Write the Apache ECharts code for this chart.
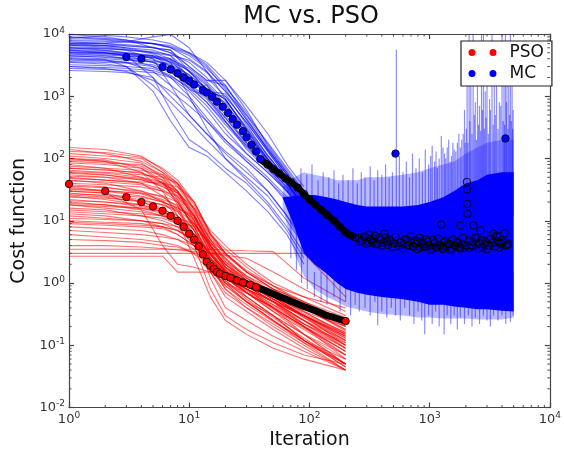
<!DOCTYPE html>
<html><head><meta charset="utf-8">
<script src="https://cdn.jsdelivr.net/npm/echarts@6/dist/echarts.min.js"></script>
<style>html,body{margin:0;padding:0;background:#fff}#c{width:564px;height:455px}</style>
</head><body><div id="c"></div>
<script>
// ---------------- data ----------------
const xTicks = [1, 10, 100, 1000, 10000];
const yTicks = [0.01, 0.1, 1, 10, 100, 1000, 10000];

// PSO individual runs, sampled at redX
const redX = [1, 2, 4, 6, 8, 11, 15, 20, 30, 50, 90, 200];
const redRuns = [
  [150,140,110,66,40,18,6,3.5,1.8,0.9,0.5,0.25],
  [120,110,100,60,35,15,5,2.5,1.2,0.7,0.35,0.15],
  [100,95,70,40,25,12,4,1.8,1.1,0.6,0.3,0.12],
  [90,85,80,55,30,10,3,1.2,0.7,0.4,0.2,0.08],
  [80,70,50,35,28,16,7,4,2,1,0.6,0.4],
  [70,65,60,40,20,8,2.5,1.5,0.9,0.5,0.25,0.1],
  [60,55,45,38,30,14,5,2.2,1.3,0.8,0.5,0.2],
  [55,50,40,25,15,7,3,1.5,0.8,0.4,0.15,0.06],
  [50,45,42,40,35,20,6,3,1.5,0.9,0.6,0.3],
  [45,40,30,20,12,6,2,1,0.6,0.3,0.15,0.05],
  [40,38,35,30,25,12,4,2,1.2,0.7,0.4,0.18],
  [38,35,28,22,18,10,3.5,1.8,0.9,0.5,0.25,0.09],
  [35,30,25,20,16,12,5,3,1.5,0.8,0.5,0.28],
  [32,30,28,25,20,8,2.5,1.2,0.7,0.35,0.18,0.07],
  [30,28,20,15,10,5,2,1.3,0.8,0.45,0.22,0.11],
  [28,25,22,18,15,9,4,2,1,0.6,0.3,0.14],
  [25,22,18,14,10,6,3,1.5,0.9,0.5,0.2,0.06],
  [22,20,18,15,12,7,2.2,1.1,0.6,0.3,0.12,0.045],
  [20,18,15,12,9,5,2.5,1.4,0.8,0.45,0.25,0.12],
  [18,16,14,12,10,8,4.5,2.5,1.3,0.7,0.4,0.2],
  [16,15,12,10,8,4,1.8,0.9,0.5,0.25,0.12,0.05],
  [15,14,13,12,11,9,4,1.8,1,0.55,0.3,0.15],
  [13,12,10,8,6,4,2,1.2,0.7,0.4,0.2,0.08],
  [12,11,10,9,8,6,3,1.5,0.9,0.6,0.35,0.2],
  [10,9.5,9,8,7,5,2,0.8,0.4,0.2,0.1,0.04],
  [9,8.5,8,7.5,6,4,2.2,1.3,0.8,0.5,0.3,0.15],
  [8,7.5,7,6,5,3.5,1.6,0.9,0.5,0.3,0.15,0.07],
  [7,6.5,6,5.5,5,4,2.5,1.4,0.9,0.6,0.4,0.25],
  [6,5.5,5,4.5,4,3,1.5,0.7,0.4,0.22,0.11,0.05],
  [5,4.8,4.5,4,3.8,3,2,1.2,0.8,0.5,0.3,0.13],
  [4,4,3.8,3.6,3.4,3.2,3,2.8,2.5,1.5,0.8,0.35],
  [3.5,3.5,3.5,3.5,3.5,3.5,3.5,3.4,3.3,3.2,1.2,0.5],
  [3,3,3,3,3,3,3,3,3,3,3,0.6],
  [2.7,2.7,2.7,2.7,1.5,1.5,1.5,1.0,0.7,0.4,0.2,0.09],
  [100,90,60,30,12,5,2.2,1,0.5,0.25,0.12,0.05],
  [65,60,55,50,40,20,6,3,1.6,0.9,0.45,0.22],
  [140,120,90,60,40,15,4.5,2.2,1.1,0.55,0.28,0.12],
  [75,70,65,55,38,16,5.5,2.8,1.5,0.8,0.4,0.17],
  [48,45,40,32,22,9,3.2,1.6,1,0.6,0.3,0.1],
  [26,24,20,16,11,5,1.5,0.6,0.35,0.18,0.09,0.04],
  [30,28,15,4,2,1.8,1.5,1.2,0.8,0.5,0.25,0.1],
  [110,100,85,50,22,7,1.2,0.4,0.25,0.14,0.08,0.04],
  [85,80,70,45,18,4,0.8,0.3,0.18,0.11,0.07,0.05],
  [18,17,16,14,10,2.5,0.6,0.25,0.15,0.09,0.06,0.04],
  [130,125,105,70,45,20,6.5,3,1.5,0.8,0.4,0.18],
  [95,90,75,50,30,13,4,1.6,0.8,0.4,0.2,0.07],
  [62,58,50,42,28,11,3.5,1.4,0.7,0.35,0.15,0.05],
  [52,50,46,36,24,10,3,1.3,0.6,0.3,0.12,0.045],
  [44,42,38,30,20,8,2.8,1.6,0.9,0.5,0.22,0.09],
  [36,34,30,24,17,9,3.8,2,1.1,0.6,0.3,0.13],
  [33,31,27,21,14,6,2.2,1,0.5,0.25,0.11,0.04],
  [27,26,24,20,16,11,4.5,2.4,1.2,0.65,0.32,0.16],
  [24,23,21,18,14,7,2.6,1.3,0.7,0.38,0.19,0.08],
  [21,20,17,14,11,6,2.4,1.1,0.55,0.28,0.13,0.05],
  [19,18,16,13,9,4.5,1.8,0.8,0.45,0.24,0.12,0.06],
  [14,13,12,11,9,6,2.8,1.6,0.95,0.55,0.3,0.14],
  [11,10.5,10,9,7,4.5,2.4,1.3,0.75,0.42,0.22,0.1],
  [9.5,9,8.5,8,7,5,3,1.7,1,0.55,0.28,0.11],
  [70,66,58,45,30,12,3.6,1.8,1,0.55,0.3,0.14],
  [58,54,48,40,28,12,4.2,2,1.1,0.62,0.34,0.16]
];

// MC individual runs (smooth part), sampled at blueX
const blueX = [1, 2, 3, 5, 7, 10, 14, 20, 30, 45, 65, 90];
const blueRuns = [
  [9000,8500,8000,7000,6000,4000,2500,1200,500,150,60,25],
  [8000,8000,7500,7000,6500,5000,3500,1800,700,250,80,35],
  [7000,6500,6000,5000,4000,2500,1500,700,250,100,45,20],
  [6500,6500,6000,5500,4500,2500,1300,900,300,110,50,22],
  [6000,5500,5000,4500,3000,2000,1200,500,180,80,40,18],
  [5500,5000,4500,3500,2500,1500,800,350,150,70,35,15],
  [5000,5000,4800,4000,3000,1300,1000,400,160,75,38,16],
  [4500,4200,4000,3000,2000,1200,600,250,120,60,30,14],
  [4000,3800,3500,2500,1500,900,400,180,90,45,20,9],
  [3500,3300,3000,1500,800,400,200,100,50,25,10,4],
  [3000,2800,2500,1800,1200,700,400,200,90,45,22,10],
  [2600,2500,2400,2000,1000,500,250,130,70,30,12,5],
  [7500,7000,6500,6000,5500,3000,1800,1500,500,180,70,30],
  [5800,5800,5500,5000,4500,2000,1100,800,250,90,40,17],
  [4800,4500,4000,3500,2800,2000,1100,450,170,75,35,15],
  [6200,6000,5500,4000,1500,500,250,120,60,30,12,4],
  [5200,5000,4500,2000,600,200,130,70,40,18,7,2.5],
  [3800,3700,3500,3200,2500,1500,900,400,140,65,32,14],
  [8500,9500,9000,8000,7000,5000,3200,1500,450,140,55,24],
  [4200,4000,3800,3600,3400,1500,1500,600,200,85,40,17],
  [9800,9000,8000,6000,5000,3000,1800,1800,600,160,60,25],
  [3200,3100,3000,2800,2200,1300,700,300,120,60,30,13],
  [5600,5400,5000,4500,4000,2000,1200,1100,350,110,45,20],
  [6800,6600,6400,6000,5500,2500,1300,900,280,95,42,18],
  [2800,2700,2600,2400,2000,1000,450,200,100,50,24,10],
  [4600,4600,4400,4200,3800,1800,1100,1000,380,130,50,20],
  [7000,7200,7500,9000,9800,6000,2500,900,300,100,40,16],
  [4000,3900,3000,1200,400,150,110,60,30,14,6,2],
  [5000,4800,4500,4200,3500,1000,300,100,45,20,8,3],
  [8800,8200,7800,7000,6000,4500,2800,1400,550,170,65,28],
  [7200,7000,6800,6200,5000,3500,2000,1000,380,130,50,22],
  [6000,5800,5600,5200,4600,3800,2400,1200,420,140,55,24],
  [5400,5200,4900,4300,3600,2600,1600,750,280,100,42,18],
  [4400,4300,4100,3800,3200,2200,1300,600,230,90,38,16],
  [3600,3500,3400,3000,2400,1600,950,450,180,75,33,14],
  [6600,6200,5800,4800,3500,2200,1300,650,250,95,40,17],
  [7800,7600,7400,7000,6200,4800,3000,1300,420,140,55,24],
  [3000,2900,2800,2600,2100,1400,800,380,160,70,30,13],
  [5000,4900,4700,4400,3900,2800,1700,850,320,115,45,19]
];

// MC noisy band (envelopes)
const bandX  = [60, 75, 90, 110, 140, 170, 200, 250, 300, 400, 600, 800, 1000, 1300, 1600, 2000, 2500, 3000, 4000, 5000];
const coreHi = [24, 25, 26, 26, 24, 22, 20, 18, 17, 17, 17, 18, 20, 24, 30, 40, 45, 55, 60, 60];
const coreLo = [23, 8, 3, 2, 1.4, 1.0, 0.8, 0.7, 0.65, 0.6, 0.55, 0.5, 0.45, 0.45, 0.42, 0.4, 0.38, 0.38, 0.36, 0.35];
const hazeHi = [35, 50, 60, 55, 50, 45, 45, 45, 50, 50, 55, 60, 70, 80, 90, 120, 150, 180, 200, 200];
const hazeLo = [16, 3, 1.3, 0.8, 0.6, 0.5, 0.42, 0.38, 0.35, 0.32, 0.3, 0.28, 0.28, 0.27, 0.27, 0.27, 0.26, 0.26, 0.26, 0.28];

// MC noise strokes: [iteration, low, high]
const spikes = [
  [85,12,70],[95,12,55],[105,12,80],[118,12,45],[130,12,60],[145,12,50],[160,12,65],[175,12,40],[190,12,55],
  [210,12,45],[230,12,70],[250,12,40],[270,12,60],[290,12,50],[320,12,75],[345,12,45],[370,12,65],[400,12,55],[430,12,80],[460,12,50],[490,12,60],
  [528,12,5600],
  [560,12,110],[600,12,60],[640,12,90],[680,12,50],[720,12,120],[770,12,70],[820,12,100],[870,12,60],[920,12,140],[980,12,80],[1050,12,160],[1100,12,90],[1160,12,70],
  [1020,12,110],[1130,12,130],[1200,12,100],[1290,12,150],[1360,12,100],[1440,12,200],[1520,12,110],[1600,12,140],[1700,12,180],[1800,12,150],[1900,12,250],[1980,12,180],
  [1250,12,230],[1330,12,120],[1400,12,150],[1480,12,90],[1560,12,180],[1650,12,130],[1750,12,250],[1850,12,200],[1950,12,600],
  [2050,12,3000],[2130,12,10000],[2200,12,1500],[2300,12,10000],[2400,12,800],[2500,12,2000],[2600,12,700],[2700,12,10000],[2800,12,10000],[2900,12,1200],
  [3000,12,3000],[3150,12,900],[3300,12,10000],[3450,12,2500],[3600,12,1500],[3800,12,800],[4000,12,10000],[4150,12,3000],[4270,12,10000],[4400,12,2000],
  [4550,12,5000],[4700,12,10000],[4850,12,1500],[4950,12,600],
  [2020,12,300],[2080,12,180],[2160,12,400],[2250,12,250],[2350,12,500],[2450,12,200],[2550,12,350],[2650,12,280],[2750,12,600],[2850,12,300],
  [2950,12,450],[3080,12,250],[3200,12,600],[3380,12,350],[3520,12,500],[3700,12,300],[3900,12,700],[4080,12,400],[4200,12,350],[4350,12,800],
  [4480,12,300],[4620,12,500],[4780,12,400],[4900,12,300],
  [110,0.6,1.5],[125,0.5,1.5],[140,0.45,1.5],[160,0.6,1.5],[180,0.35,1.5],[200,0.5,1.5],[220,0.3,1.5],[240,0.45,1.5],[260,0.35,1.5],[290,0.4,1.5],
  [320,0.3,1.5],[350,0.5,1.5],[370,0.21,1.5],[400,0.35,1.5],[440,0.28,1.5],[480,0.4,1.5],[520,0.3,1.5],[570,0.25,1.5],[620,0.4,1.5],[680,0.3,1.5],
  [740,0.22,1.5],[800,0.35,1.5],[860,0.25,1.5],[910,0.15,1.5],[980,0.3,1.5],[1050,0.22,1.5],[1120,0.35,1.5],[1200,0.2,1.5],[1320,0.15,1.5],[1400,0.3,1.5],
  [1500,0.22,1.5],[1600,0.3,1.5],[1700,0.18,1.5],[1800,0.28,1.5],[1950,0.22,1.5],[2100,0.3,1.5],[2250,0.2,1.5],[2400,0.28,1.5],[2600,0.22,1.5],[2800,0.3,1.5],
  [3000,0.25,1.5],[3200,0.2,1.5],[3400,0.3,1.5],[3700,0.25,1.5],[4000,0.3,1.5],[4300,0.22,1.5],[4700,0.24,1.5],[4950,0.3,1.5],
  [70,2.5,20],[78,1.6,12],[86,1.0,8],[96,0.8,6]
];

// PSO mean
const psoMeanX = [1,2,3,4,5,6,7,8,9,10,11,12,13,14,15,16,17,18,20,22,25,28,32,36,40,45,50,56,63,70,80,90,100,112,125,140,160,180,200];
const psoMeanY = [39,30,24,20,17,14.5,12,10,8,6.2,5,3.9,2.9,2.2,1.9,1.7,1.5,1.42,1.3,1.22,1.1,1.02,0.94,0.86,0.8,0.73,0.67,0.61,0.56,0.51,0.46,0.42,0.39,0.36,0.33,0.3,0.28,0.26,0.245];

// MC mean
const mcMeanX = [3,4,6,7,8,9,10,11,13,14,15.5,17,19,21,23,25,28,30,33,36,39,45,50,56,63,70,80,90,100,112,125,140,160,180,200,220,240];
const mcMeanY = [4270,4000,2950,2700,2340,2000,1780,1550,1260,1150,980,820,680,540,430,350,275,220,166,130,98,80,68,58,48,42,34,27,22,18,15,12.5,10,8,6.5,5.8,5.4];
const mcTailX = [260,275,290,305,320,335,350,370,390,410,430,450,475,500,550,580,610,640,670,700,735,770,800,840,880,920,960,1000,1050,1100,1150,1200,1260,1320,1380,1450,1520,1600,1680,1760,1850,1950,2100,2200,2300,2450,2600,2750,2900,3100,3300,3500,3700,3900,4100,4300,4500];
const mcTailY = [5.3,4.8,5.6,4.6,5.1,4.4,5.8,4.3,4.9,4.5,5.3,4.1,4.7,4.4,3.9,4.6,4.2,5.0,4.0,4.5,3.8,4.3,4.7,3.7,4.2,3.9,4.6,4.0,3.6,4.4,3.8,4.1,3.7,4.5,3.9,4.2,3.6,4.0,4.6,3.8,4.3,3.7,4.8,4.1,3.9,5.2,4.3,3.8,4.6,4.0,4.4,3.9,4.7,4.2,4.5,4.0,4.3];
const mcTail2X = [265,285,298,312,328,342,358,380,400,420,440,465,490,520,565,595,625,655,690,720,755,790,820,860,900,940,980,1025,1075,1125,1175,1230,1290,1350,1420,1490,1560,1640,1720,1800,1900,2000,2150,2280,2400,2550,2700,2850,3000,3200,3400,3600,3800,4000,4200,4400];
const mcTail2Y = [4.6,5.5,4.3,6.0,4.8,5.2,4.2,5.4,4.0,6.2,4.6,5.0,3.8,5.5,4.4,3.6,5.1,4.1,5.6,3.9,4.8,3.5,5.3,4.5,3.8,5.0,4.1,3.4,4.9,3.7,5.2,4.0,3.5,4.8,4.3,3.4,5.0,3.9,4.4,3.6,5.3,4.0,3.7,4.6,5.4,3.6,4.9,4.2,3.5,5.1,4.6,5.8,3.7,4.9,6.3,4.1];
const mcOutX = [1250,1800,2040,2050,2060,2070,2320,2650,3400,3650,3930];
const mcOutY = [8.7,8.4,42,32,18.7,13,8.4,7,6.2,5.5,4.4];
const mcPeakX = [520, 4270];
const mcPeakY = [120, 210];

// ---------------- chart ----------------
const FONT = '"DejaVu Sans", "Liberation Sans", sans-serif';
const pair = (xs, ys) => xs.map((x, i) => [x, ys[i]]);
const supLabel = v => {
  const e = Math.round(Math.log10(v));
  return '{b|10}{e|' + (e < 0 ? '-' + (-e) : e) + '}';
};
const labelRich = {
  b: {fontSize: 13, color: '#333', fontFamily: FONT},
  e: {fontSize: 9, color: '#333', fontFamily: FONT, padding: [0, 0, 7, 0]}
};
const axisLineStyle = {color: '#444', width: 1.2};

function bandRenderer(lo, hi, fill) {
  return function (params, api) {
    const pts = [];
    for (let i = 0; i < bandX.length; i++) pts.push(api.coord([bandX[i], hi[i]]));
    for (let i = bandX.length - 1; i >= 0; i--) pts.push(api.coord([bandX[i], lo[i]]));
    return {type: 'polygon', shape: {points: pts}, style: {fill: fill}};
  };
}

const series = [];
redRuns.forEach(r => series.push({
  type: 'line', data: pair(redX, r), symbol: 'none', silent: true, z: 2,
  lineStyle: {color: 'rgba(255,0,0,0.55)', width: 1.1}
}));
series.push({type: 'custom', z: 3, silent: true, clip: true,
  data: [[bandX[0], hazeLo[0]]], renderItem: bandRenderer(hazeLo, hazeHi, 'rgba(0,0,255,0.28)')});
blueRuns.forEach(r => series.push({
  type: 'line', data: pair(blueX, r), symbol: 'none', silent: true, z: 3,
  lineStyle: {color: 'rgba(0,0,255,0.5)', width: 1.1}
}));
series.push({type: 'custom', z: 3, silent: true, clip: true, data: spikes,
  encode: {x: 0, y: [1, 2]},
  renderItem: (params, api) => {
    const x = api.value(0);
    const p1 = api.coord([x, api.value(1)]);
    const p2 = api.coord([x, api.value(2)]);
    return {type: 'line', shape: {x1: p1[0], y1: p1[1], x2: p2[0], y2: p2[1]},
      style: {stroke: 'rgba(0,0,255,0.45)', lineWidth: 1.2}};
  }});
series.push({type: 'custom', z: 4, silent: true, clip: true,
  data: [[bandX[0], coreLo[0]]], renderItem: bandRenderer(coreLo, coreHi, '#0000ff')});
// thick black trails formed by overlapping marker edges
series.push({type: 'line', z: 5, silent: true, symbol: 'none',
  data: pair(psoMeanX, psoMeanY).filter(p => p[0] >= 17),
  lineStyle: {color: '#000', width: 7}});
series.push({type: 'line', z: 5, silent: true, symbol: 'none',
  data: pair(mcMeanX, mcMeanY).filter(p => p[0] >= 39),
  lineStyle: {color: '#000', width: 6.5}});
series.push({name: 'PSO', type: 'scatter', z: 6, silent: true, symbol: 'circle', symbolSize: 7.5,
  data: pair(psoMeanX, psoMeanY).filter(p => p[0] <= 36 || p[0] === 200),
  itemStyle: {color: '#ff0000', borderColor: '#000', borderWidth: 0.8, opacity: 1}});
series.push({name: 'MC', type: 'scatter', z: 6, silent: true, symbol: 'circle', symbolSize: 7.5,
  data: pair(mcMeanX, mcMeanY).filter(p => p[0] <= 39).concat(pair(mcPeakX, mcPeakY)),
  itemStyle: {color: '#0000ff', borderColor: '#000', borderWidth: 0.8, opacity: 1}});
series.push({type: 'scatter', z: 6, silent: true, symbol: 'circle', symbolSize: 7.5,
  data: pair(mcMeanX, mcMeanY).filter(p => p[0] > 39)
    .concat(pair(mcTailX, mcTailY), pair(mcTail2X, mcTail2Y), pair(mcOutX, mcOutY)),
  itemStyle: {color: 'rgba(0,0,255,0)', borderColor: '#000', borderWidth: 0.9, opacity: 1}});
// minor ticks on all four sides
series.push({type: 'custom', z: 7, silent: true, clip: false, data: [[1, 1]],
  renderItem: (params, api) => {
    const cs = params.coordSys;
    const L = cs.x, R = cs.x + cs.width, T = cs.y, B = cs.y + cs.height;
    const st = {stroke: '#444', lineWidth: 1};
    const ch = [];
    const ln = (x1, y1, x2, y2) => ch.push({type: 'line', shape: {x1, y1, x2, y2}, style: st});
    for (let k = 0; k < xTicks.length - 1; k++) for (let m = 2; m <= 9; m++) {
      const px = api.coord([m * xTicks[k], 1])[0];
      ln(px, B, px, B - 2.5); ln(px, T, px, T + 2.5);
    }
    for (let k = 0; k < yTicks.length - 1; k++) for (let m = 2; m <= 9; m++) {
      const py = api.coord([1, m * yTicks[k]])[1];
      ln(L, py, L + 2.5, py); ln(R, py, R - 2.5, py);
    }
    return {type: 'group', children: ch};
  }});

const xBase = {type: 'log', logBase: 10, min: xTicks[0], max: xTicks[xTicks.length - 1],
  splitLine: {show: false}, axisLine: {show: true, lineStyle: axisLineStyle},
  axisTick: {show: true, inside: true, length: 5, lineStyle: axisLineStyle}};
const yBase = {type: 'log', logBase: 10, min: yTicks[0], max: yTicks[yTicks.length - 1],
  splitLine: {show: false}, axisLine: {show: true, lineStyle: axisLineStyle},
  axisTick: {show: true, inside: true, length: 5, lineStyle: axisLineStyle}};

const option = {
  animation: false,
  backgroundColor: '#fff',
  grid: {left: 69, right: 11, top: 34, bottom: 47, containLabel: false},
  graphic: [{type: 'text', x: 311, y: 5, silent: true,
    style: {text: 'MC vs. PSO', font: '24px ' + FONT, fill: '#111', align: 'center', verticalAlign: 'top'}}],
  legend: {
    data: ['PSO', 'MC'], orient: 'vertical', left: 461, top: 41,
    padding: [3, 8, 4, 7.5], itemGap: 4, itemWidth: 28, itemHeight: 7,
    icon: 'path://M0,3.5a3.5,3.5 0 1,0 7,0a3.5,3.5 0 1,0 -7,0M21,3.5a3.5,3.5 0 1,0 7,0a3.5,3.5 0 1,0 -7,0',
    borderColor: '#222', borderWidth: 1.2, backgroundColor: '#fff', borderRadius: 0,
    itemStyle: {borderWidth: 0},
    textStyle: {fontSize: 17, color: '#111', fontFamily: FONT, padding: [0, 0, 0, 8]},
    selectedMode: false
  },
  xAxis: [
    Object.assign({}, xBase, {position: 'bottom',
      axisLabel: {formatter: supLabel, rich: labelRich, margin: 4},
      name: 'Iteration', nameLocation: 'middle', nameGap: 20,
      nameTextStyle: {fontSize: 19, color: '#111', fontFamily: FONT}}),
    Object.assign({}, xBase, {position: 'top', axisLabel: {show: false}})
  ],
  yAxis: [
    Object.assign({}, yBase, {position: 'left',
      axisLabel: {formatter: supLabel, rich: labelRich, margin: 4},
      name: 'Cost function', nameLocation: 'middle', nameGap: 35,
      nameTextStyle: {fontSize: 19, color: '#111', fontFamily: FONT}}),
    Object.assign({}, yBase, {position: 'right', axisLabel: {show: false}})
  ],
  series: series
};
const chart = echarts.init(document.getElementById('c'), null, {renderer: 'canvas', width: 564, height: 455});
chart.setOption(option);
</script>
</body></html>
